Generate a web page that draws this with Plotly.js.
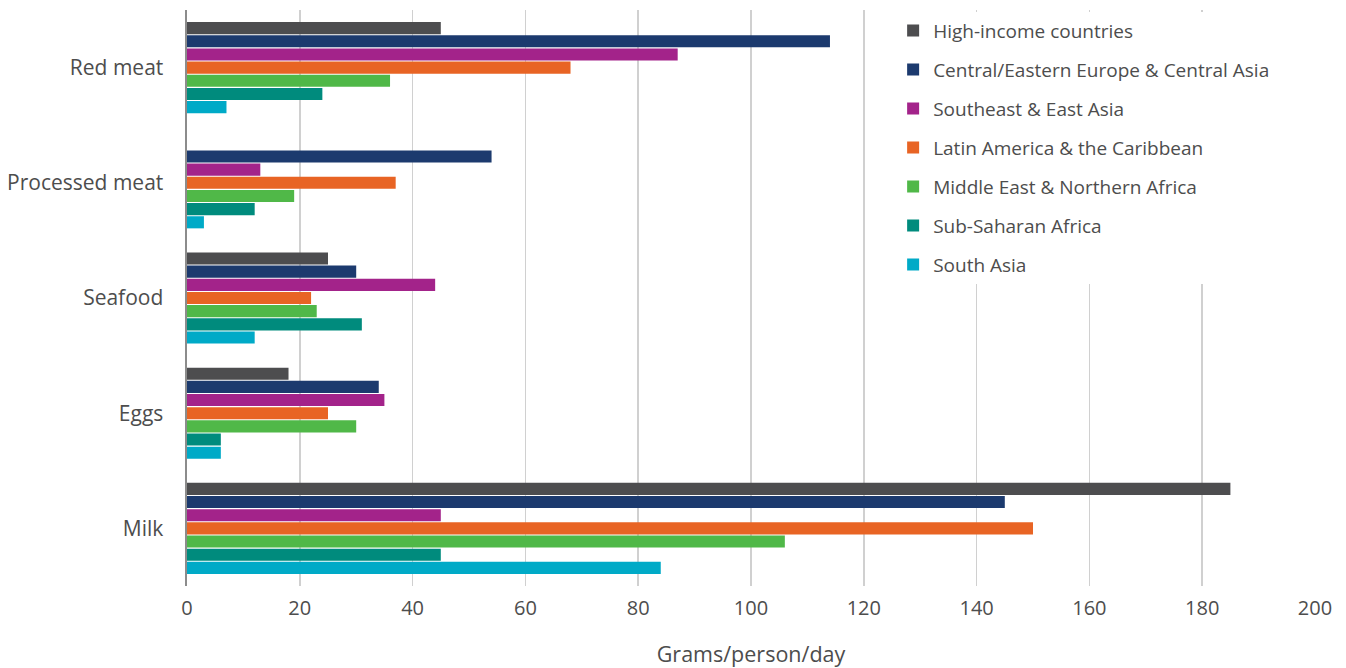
<!DOCTYPE html>
<html>
<head>
<meta charset="utf-8">
<script src="https://cdn.plot.ly/plotly-3.0.1.min.js"></script>
<style>html,body{margin:0;padding:0;background:#fff;}#chart{width:1346px;height:668px;}</style>
</head>
<body>
<div id="chart"></div>
<script>
const categories = ["Red meat", "Processed meat", "Seafood", "Eggs", "Milk"];
const regions = [
  "High-income countries",
  "Central/Eastern Europe & Central Asia",
  "Southeast & East Asia",
  "Latin America & the Caribbean",
  "Middle East & Northern Africa",
  "Sub-Saharan Africa",
  "South Asia"
];
const highIncome     = [45, null, 25, 18, 185];
const centralEastern = [114, 54, 30, 34, 145];
const southeastEast  = [87, 13, 44, 35, 45];
const latinAmerica   = [68, 37, 22, 25, 150];
const middleEast     = [36, 19, 23, 30, 106];
const subSaharan     = [24, 12, 31, 6, 45];
const southAsia      = [7, 3, 12, 6, 84];
const xTicks = [0, 20, 40, 60, 80, 100, 120, 140, 160, 180, 200];

const seriesValues = [highIncome, centralEastern, southeastEast, latinAmerica, middleEast, subSaharan, southAsia];
const colors = ["#4d4d4f", "#1c3a6e", "#a3238a", "#e86424", "#50b848", "#008b7d", "#00aac7"];

const traces = regions.map((name, i) => ({
  type: "bar",
  orientation: "h",
  name: name,
  legendgroup: "g" + i,
  y: categories,
  x: seriesValues[i],
  marker: {color: colors[i]},
  hoverinfo: "x+name"
}));

const layout = {
  width: 1346,
  height: 668,
  margin: {l: 187, r: 31, t: 10, b: 82},
  paper_bgcolor: "#fff",
  plot_bgcolor: "#fff",
  font: {family: "'Open Sans', Lato, sans-serif", color: "#4d4d4d"},
  barmode: "group",
  bargap: 0.2,
  bargroupgap: 0.08,
  showlegend: true,
  legend: {
    x: 0.626, xanchor: "left",
    y: 0.997, yanchor: "top",
    bgcolor: "#fff",
    font: {size: 19, color: "#4d4d4d"},
    tracegroupgap: 11.3,
    traceorder: "grouped"
  },
  xaxis: {
    range: [0, 200],
    tickvals: xTicks,
    ticktext: xTicks.map(String),
    showgrid: true,
    gridcolor: "#d0d0d0",
    gridwidth: 1.5,
    zeroline: false,
    showline: false,
    ticks: "",
    ticklabelstandoff: 8,
    tickfont: {size: 20, color: "#4d4d4d"},
    title: {text: "Grams/person/day", font: {size: 21.5, color: "#4d4d4d"}, standoff: 32},
    fixedrange: true
  },
  yaxis: {
    type: "category",
    autorange: "reversed",
    showgrid: false,
    zeroline: false,
    showline: true,
    linecolor: "#8c8c8c",
    linewidth: 2.5,
    ticks: "",
    ticklabelstandoff: 17,
    tickfont: {size: 21, color: "#4d4d4d"},
    fixedrange: true
  }
};

Plotly.newPlot("chart", traces, layout, {displayModeBar: false, staticPlot: true});
</script>
</body>
</html>
